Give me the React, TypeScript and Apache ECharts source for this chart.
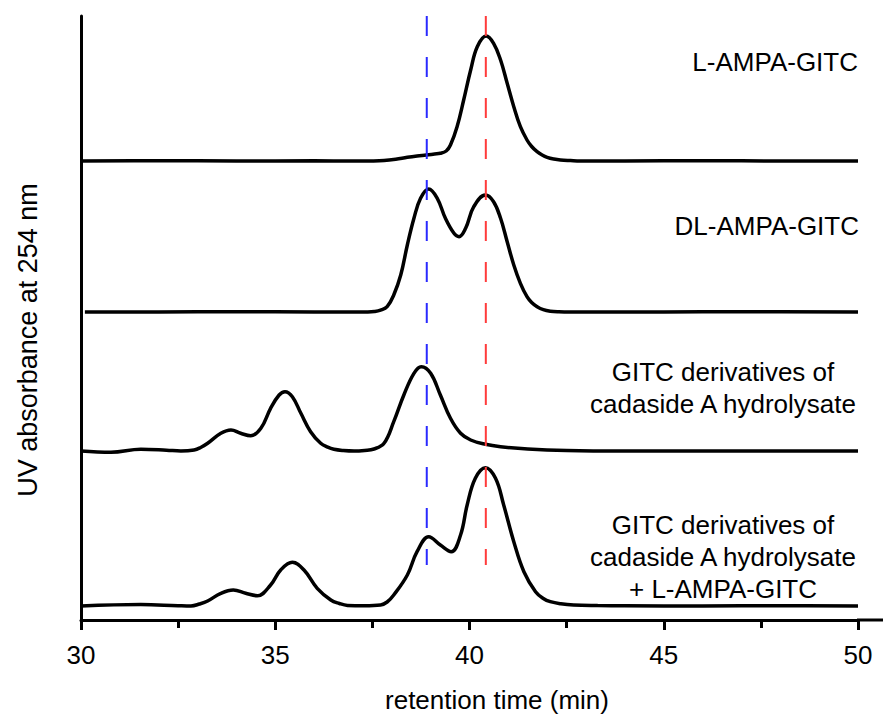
import React, { useEffect, useRef } from "react";
import * as echarts from "echarts";

// ---- data (retention time in min, signal height above each trace's baseline) ----
const trace1Time = [30, 32, 34, 36, 37, 37.5, 37.8, 38.1, 38.4, 38.65, 38.89, 39.1, 39.25, 39.4, 39.51, 39.68, 39.85, 40.03, 40.2, 40.43, 40.62, 40.8, 40.97, 41.14, 41.31, 41.48, 41.6, 41.74, 41.87, 42.0, 42.17, 42.34, 42.6, 42.85, 43.3, 44, 46, 48, 50];
const trace1Value = [0, 0.3, 0, 0.2, 0, 0.1, 0.5, 1.8, 3.7, 5, 6, 7, 7.7, 10, 16, 34.3, 61, 91, 114.3, 125, 117.7, 101, 77.7, 54.3, 34.3, 21, 14.5, 9.3, 6, 3.7, 2, 1, 0.4, 0, 0, 0, 0.3, 0, 0];

const trace2Time = [30.1, 32, 34, 36, 37, 37.35, 37.55, 37.71, 37.88, 38.05, 38.23, 38.4, 38.57, 38.74, 38.95, 39.17, 39.38, 39.6, 39.73, 39.9, 40.11, 40.41, 40.62, 40.8, 40.97, 41.14, 41.31, 41.48, 41.6, 41.74, 41.9, 42.08, 42.3, 42.6, 43, 45, 47, 50];
const trace2Value = [0, 0, 0.3, 0, 0, 0.1, 0.5, 1.8, 5.3, 17, 37, 67, 93.7, 113.7, 123, 113.7, 93.7, 78.7, 75.3, 83.7, 105.3, 117, 110.3, 93.7, 70.3, 47, 28.7, 15.3, 9.5, 5.3, 2.3, 0.8, 0.2, 0, 0, 0, 0.3, 0];

const trace3Time = [30, 30.77, 31.54, 32.2, 32.57, 32.91, 33.08, 33.26, 33.6, 33.86, 34.11, 34.37, 34.63, 34.88, 35.1, 35.25, 35.44, 35.66, 35.91, 36.17, 36.35, 36.51, 36.75, 37.03, 37.3, 37.54, 37.8, 38.05, 38.31, 38.57, 38.76, 39.0, 39.25, 39.51, 39.77, 40.03, 40.41, 40.8, 41.5, 42.5, 44, 46, 48, 50];
const trace3Value = [0, -1.3, 1.7, 0.8, 0, 1, 3.5, 7.7, 17.7, 21, 17.7, 15.3, 22.7, 42.7, 56, 59.3, 54.3, 37.7, 19.3, 7.7, 3.8, 1.7, 0.5, 0, 0.6, 2, 7.7, 29.3, 56, 77.7, 84.3, 77.7, 56, 32.7, 17.7, 11, 6.7, 4.3, 2, 0.5, 0, 0, 0, 0];

const trace4Time = [30, 31.54, 32.5, 32.83, 33.05, 33.26, 33.6, 33.92, 34.24, 34.54, 34.88, 35.14, 35.44, 35.74, 36.08, 36.43, 36.65, 36.86, 37.3, 37.71, 37.88, 38.05, 38.4, 38.65, 38.95, 39.25, 39.53, 39.77, 39.94, 40.15, 40.41, 40.67, 40.88, 41.14, 41.4, 41.7, 41.9, 42.08, 42.35, 42.68, 43.3, 44, 46, 48, 50];
const trace4Value = [0, 1.5, 0.3, 0, 2, 5, 12.7, 16, 12.7, 10.3, 21, 36, 43.7, 36, 17.7, 6, 2.5, 0.6, 0.3, 1, 4, 11, 31, 54.3, 69.3, 61, 54.3, 71, 101, 127.7, 138.3, 127.7, 101, 64.3, 34.3, 14.3, 7.5, 4.3, 2.2, 1, 0.5, 0.3, 0, 0.3, 0];

const traceOffsets = [459, 308, 169, 14];

const traceLabels = [
  ["L-AMPA-GITC"],
  ["DL-AMPA-GITC"],
  ["GITC derivatives of", "cadaside A hydrolysate"],
  ["GITC derivatives of", "cadaside A hydrolysate", "+ L-AMPA-GITC"],
];

const markerTimes = [38.9, 40.42];
const markerRange = [55, 604];

const xMin = 30;
const xMax = 50;
const xInterval = 5;

const xTitle = "retention time (min)";
const yTitle = "UV absorbance at 254 nm";

const FONT = "'Liberation Sans', Arial, Helvetica, sans-serif";

export default function App() {
  const ref = useRef<HTMLDivElement>(null);

  useEffect(() => {
    if (!ref.current) return;
    const chart = echarts.init(ref.current, undefined, { renderer: "svg" });

    const times = [trace1Time, trace2Time, trace3Time, trace4Time];
    const values = [trace1Value, trace2Value, trace3Value, trace4Value];

    const traceSeries = times.map((t, i) => ({
      type: "line",
      name: traceLabels[i].join(" "),
      data: t.map((x, j) => [x, values[i][j] + traceOffsets[i]]),
      smooth: 0.4,
      symbol: "none",
      lineStyle: { color: "#000", width: 3.5 },
      z: 2,
    }));

    const markerColors = ["#2a2aff", "#ff3b3b"];
    const markerSeries = markerTimes.map((m, i) => ({
      type: "line",
      data: [
        [m, markerRange[1]],
        [m, markerRange[0]],
      ],
      symbol: "none",
      lineStyle: { color: markerColors[i], width: 2, type: [20, 21] },
      z: 3,
    }));

    const labelPos = [
      { x: 858, y: 62, align: "right" },
      { x: 859, y: 226, align: "right" },
      { x: 723, y: 372, align: "center" },
      { x: 723, y: 525, align: "center" },
    ];
    const lineGap = 32;

    const graphics: any[] = [];
    traceLabels.forEach((lines, i) => {
      lines.forEach((txt, k) => {
        graphics.push({
          type: "text",
          x: labelPos[i].x,
          y: labelPos[i].y + k * lineGap,
          style: {
            text: txt,
            fill: "#000",
            font: `26px ${FONT}`,
            align: labelPos[i].align,
            verticalAlign: "middle",
          },
        });
      });
    });
    graphics.push({
      type: "text",
      x: 497,
      y: 700,
      style: { text: xTitle, fill: "#000", font: `26px ${FONT}`, align: "center", verticalAlign: "middle" },
    });
    graphics.push({
      type: "text",
      x: 28,
      y: 340,
      rotation: Math.PI / 2,
      style: { text: yTitle, fill: "#000", font: `27px ${FONT}`, align: "center", verticalAlign: "middle" },
    });
    graphics.push({
      type: "line",
      shape: { x1: 857, y1: 620, x2: 883, y2: 620 },
      style: { stroke: "#000", lineWidth: 3 },
    });

    chart.setOption({
      animation: false,
      backgroundColor: "#fff",
      grid: { left: 81, right: 25, top: 16, bottom: 95, containLabel: false },
      xAxis: {
        type: "value",
        min: xMin,
        max: xMax,
        interval: xInterval,
        axisLine: { show: true, lineStyle: { color: "#000", width: 3 } },
        axisTick: { show: true, length: 10, lineStyle: { color: "#000", width: 3 } },
        minorTick: { show: true, splitNumber: 2, length: 8, lineStyle: { color: "#000", width: 3 } },
        axisLabel: { color: "#000", fontSize: 26, fontFamily: FONT, margin: 22 },
        splitLine: { show: false },
        minorSplitLine: { show: false },
      },
      yAxis: {
        type: "value",
        min: 0,
        max: 604,
        axisLine: { show: true, lineStyle: { color: "#000", width: 3 } },
        axisTick: { show: false },
        axisLabel: { show: false },
        splitLine: { show: false },
      },
      series: [...traceSeries, ...markerSeries],
      graphic: graphics,
    });

    return () => chart.dispose();
  }, []);

  return (
    <div
      ref={ref}
      style={{ position: "absolute", left: 0, top: 0, width: 883, height: 715, background: "#fff" }}
    />
  );
}
